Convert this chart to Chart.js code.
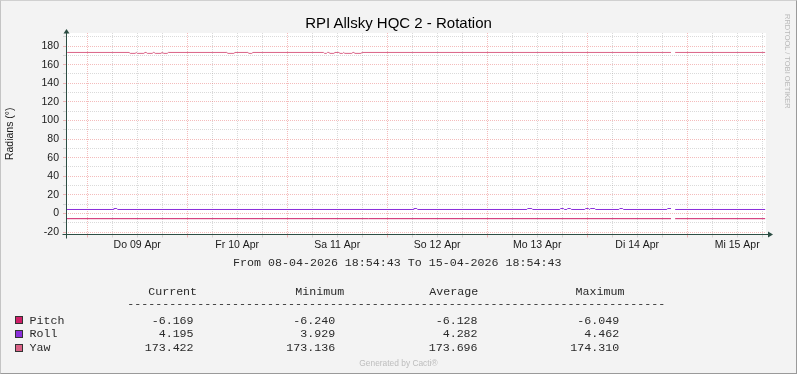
<!DOCTYPE html>
<html><head><meta charset="utf-8">
<script src="https://cdn.jsdelivr.net/npm/chart.js@4/dist/chart.umd.min.js"></script>
<style>
html,body{margin:0;padding:0;background:#f3f3f3;}
#wrap{position:relative;width:797px;height:374px;background:#f3f3f3;overflow:hidden;}
#frame{position:absolute;left:0;top:0;width:797px;height:374px;box-sizing:border-box;border-top:1px solid #d0d0d0;border-left:1px solid #c4c4c4;border-right:1px solid #9a9a9a;border-bottom:1px solid #9a9a9a;pointer-events:none;}
canvas{position:absolute;left:0;top:0;}
.t{position:absolute;white-space:pre;}
.mono{font-family:"Liberation Mono",monospace;font-size:11.65px;line-height:13px;color:#2a2a2a;}
.r{text-align:right;width:80px;}
.sq{position:absolute;width:6px;height:6px;border:1px solid #333;}
</style>
</head><body>
<div id="wrap">
  <canvas id="c" width="797" height="374"></canvas>
  <div class="t" style="left:0;width:797px;text-align:center;top:14.3px;font:15px 'Liberation Sans',Arial,sans-serif;line-height:17px;color:#000;">RPI Allsky HQC 2 - Rotation</div>
  <div class="t" style="left:782.5px;top:14px;writing-mode:vertical-rl;font:7.5px 'Liberation Sans',Arial,sans-serif;line-height:8px;color:#b9b9b9;">RRDTOOL / TOBI OETIKER</div>
  <div id="legend"></div>
  <div class="t" style="left:0;width:797px;text-align:center;top:358.1px;font:8.4px 'Liberation Sans',Arial,sans-serif;line-height:10px;color:#bdbdbd;">Generated by Cacti®</div>
  <div id="frame"></div>
</div>
<script>
// ---- data ----
const rangeText = 'From 08-04-2026 18:54:43 To 15-04-2026 18:54:43';
const spanHours = 168;
const firstMidnightHour = 5 + 5/60 + 17/3600;
const dayLabels = ['Do 09 Apr','Fr 10 Apr','Sa 11 Apr','So 12 Apr','Mo 13 Apr','Di 14 Apr','Mi 15 Apr'];
const yGridValues = [-20,-10,0,10,20,30,40,50,60,70,80,90,100,110,120,130,140,150,160,170,180,190];
const yLabelValues = [-20,0,20,40,60,80,100,120,140,160,180];

const seriesNames = ['Pitch','Roll','Yaw'];
const seriesColors = ['#CF1F68','#8A2FDA','#DA6286'];
const statHeaders = ['Current','Minimum','Average','Maximum'];
const pitchStats = ['-6.169','-6.240','-6.128','-6.049'];
const rollStats = ['4.195','3.929','4.282','4.462'];
const yawStats = ['173.422','173.136','173.696','174.310'];

const pitchHours  = [0, 145.2, 145.7, 146.2, 167.8];
const pitchValues = [-5.6, -5.6, null, -5.6, -5.6];

const rollHours  = [0, 11.3, 11.5, 12.2, 12.4, 83.3, 83.5, 84.2, 84.4, 110.6, 110.8, 111.8, 112.0,
                    118.5, 118.7, 119.4, 119.6, 120.2, 120.4, 121.1, 121.3, 124.5, 124.7, 125.4, 125.6,
                    125.7, 125.9, 126.9, 127.1, 132.7, 132.9, 133.6, 133.8, 144.2, 144.4, 145.2, 145.7, 146.2, 167.8];
const rollValues = [4.28, 4.28, 5.3, 5.3, 4.28, 4.28, 5.3, 5.3, 4.28, 4.28, 5.3, 5.3, 4.28,
                    4.28, 5.3, 5.3, 4.28, 4.28, 5.3, 5.3, 4.28, 4.28, 5.3, 5.3, 4.28,
                    4.28, 5.3, 5.3, 4.28, 4.28, 5.3, 5.3, 4.28, 4.28, 5.3, 5.3, null, 4.28, 4.28];

const yawHours  = [0, 0.4, 15.15, 15.4, 16.6, 16.85, 17.1, 18.7, 18.95, 19.25, 19.5, 20.7, 20.95,
                   21.15, 21.4, 22.8, 23.05, 23.25, 23.5, 24.3, 24.55, 38.6, 38.85, 40.3, 40.55,
                   43.65, 43.9, 44.6, 44.85, 61.8, 62.05, 62.5, 62.75, 63.1, 63.35, 64.3, 64.55,
                   65.5, 65.75, 66.4, 66.65, 66.9, 68.6, 68.85, 69.1, 69.35, 70.8, 71.05, 145.2, 145.7, 146.2, 167.8];
const yawValues = [172.2, 173.1, 173.1, 172.1, 172.1, 173.1, 172.1, 172.1, 173.1, 173.1, 172.1, 172.1, 173.1,
                   173.1, 172.1, 172.1, 173.1, 173.1, 172.1, 172.1, 173.1, 173.1, 172.1, 172.1, 173.1,
                   173.1, 172.1, 172.1, 173.1, 173.1, 172.1, 172.1, 173.1, 173.1, 172.1, 172.1, 173.1,
                   173.1, 172.1, 172.1, 173.1, 172.1, 172.1, 173.1, 173.1, 172.1, 172.1, 173.1, 173.1, null, 173.1, 173.1];

// ---- x ticks (every 6 h from first midnight) ----
const xTickHours = [], xTickLabels = [];
for (let k = 0; firstMidnightHour + 6*k <= spanHours; k++) {
  xTickHours.push(firstMidnightHour + 6*k);
  xTickLabels.push(k % 4 === 2 ? dayLabels[(k-2)/4] : '');
}

const toPts = (hs, vs) => hs.map((h,i) => ({x:h, y:vs[i]}));
const MAJOR = 'rgba(225,70,70,0.36)';
const MINOR = 'rgba(140,140,140,0.32)';
const AXIS = '#2C4D43';

const bgPlugin = {
  id:'bg',
  beforeDraw(ch){
    const {ctx, chartArea:a} = ch;
    ctx.save(); ctx.fillStyle='#ffffff';
    ctx.fillRect(a.left, a.top, a.right-a.left, a.bottom-a.top);
    ctx.restore();
  }
};
const axisPlugin = {
  id:'axes',
  afterDatasetsDraw(ch){
    const {ctx, chartArea:a} = ch;
    const x0 = Math.round(a.left)+0.5, y0 = Math.round(a.bottom)-0.5;
    ctx.save();
    ctx.strokeStyle = AXIS; ctx.fillStyle = AXIS; ctx.lineWidth = 1;
    ctx.beginPath();
    ctx.moveTo(x0, y0+4); ctx.lineTo(x0, a.top);
    ctx.moveTo(x0-4, y0); ctx.lineTo(a.right+2, y0);
    ctx.stroke();
    ctx.beginPath();
    ctx.moveTo(x0-3, a.top+0.5); ctx.lineTo(x0+3, a.top+0.5); ctx.lineTo(x0, a.top-4); ctx.closePath(); ctx.fill();
    ctx.beginPath();
    ctx.moveTo(a.right+2, y0-3); ctx.lineTo(a.right+2, y0+3); ctx.lineTo(a.right+7, y0); ctx.closePath(); ctx.fill();
    ctx.restore();
  }
};

const tickFont = {family:"'Liberation Sans', Arial, sans-serif", size:10.5};
new Chart(document.getElementById('c'), {
  type:'line',
  data:{datasets:[
    {label:seriesNames[0], data:toPts(pitchHours,pitchValues), borderColor:seriesColors[0]},
    {label:seriesNames[1], data:toPts(rollHours,rollValues), borderColor:seriesColors[1]},
    {label:seriesNames[2], data:toPts(yawHours,yawValues), borderColor:seriesColors[2]}
  ].map(d => Object.assign(d, {borderWidth:1, pointRadius:0, tension:0, spanGaps:false, fill:false}))},
  options:{
    responsive:false, animation:false, devicePixelRatio:1,
    layout:{padding:{left:0, top:33, right:31, bottom:119.5}},
    plugins:{legend:{display:false}, tooltip:{enabled:false}, title:{display:false}},
    scales:{
      x:{type:'linear', min:0, max:spanHours,
        afterBuildTicks(s){ s.ticks = xTickHours.map(v => ({value:v})); },
        afterFit(s){ s.height = 20; },
        ticks:{autoSkip:false, maxRotation:0, minRotation:0, padding:1, font:tickFont, color:'#1a1a1a',
          callback(v, i){ return xTickLabels[i]; }},
        grid:{color:c => (c.index % 4 === 0 ? MAJOR : MINOR), tickLength:3, lineWidth:1},
        border:{display:false, dash:[1,1]}
      },
      y:{type:'linear', min:-22.6, max:194,
        afterBuildTicks(s){ s.ticks = yGridValues.map(v => ({value:v})); },
        afterFit(s){ s.width = 66; },
        ticks:{autoSkip:false, padding:4, font:tickFont, color:'#1a1a1a',
          callback(v){ return yLabelValues.includes(v) ? String(v) : ''; }},
        title:{display:true, text:'Radians (°)', font:tickFont, color:'#1a1a1a', padding:{top:4, bottom:0}},
        grid:{color:c => (c.tick && yLabelValues.includes(c.tick.value) ? MAJOR : MINOR), tickLength:3, lineWidth:1},
        border:{display:false, dash:[1,1]}
      }
    }
  },
  plugins:[bgPlugin, axisPlugin]
});

// ---- legend (RRDtool style text block) ----
const L = document.getElementById('legend');
function txt(s, left, top, cls, extra){
  const d = document.createElement('div');
  d.className = 't mono ' + (cls||''); d.textContent = s;
  d.style.left = left + 'px'; d.style.top = top + 'px';
  if (extra) Object.assign(d.style, extra);
  L.appendChild(d); return d;
}
txt(rangeText, 233.1, 256.4);
const headerLefts = [148.2, 295.3, 429.3, 575.6];
statHeaders.forEach((h,i) => txt(h, headerLefts[i], 284.7));
txt('-'.repeat(77), 127.3, 297);
const valueRights = [193.6, 335.2, 477.6, 619.2];
const rowTops = [313.7, 327.1, 341.1];
const squareTops = [316, 330, 344];
[pitchStats, rollStats, yawStats].forEach((stats, r) => {
  const sq = document.createElement('div');
  sq.className = 'sq'; sq.style.left = '15px'; sq.style.top = squareTops[r] + 'px';
  sq.style.background = seriesColors[r];
  L.appendChild(sq);
  txt(seriesNames[r], 29.5, rowTops[r]);
  stats.forEach((v,i) => txt(v, valueRights[i]-80, rowTops[r], 'r'));
});
</script>
</body></html>
